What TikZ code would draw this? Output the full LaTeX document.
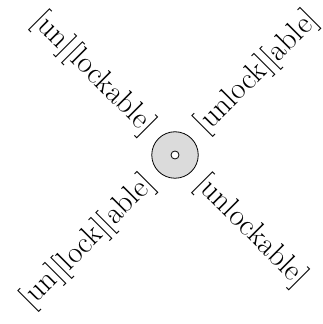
\documentclass[tikz,border=0pt]{standalone}
\usetikzlibrary{calc}
\begin{document}
\begin{tikzpicture}[x=1pt,y=1pt,
  disc/.style={circle,draw=black,line width=0.8pt,fill=black!14,minimum size=46.5pt,inner sep=0pt},
  hole/.style={circle,draw=black,line width=0.8pt,fill=white,minimum size=8pt,inner sep=0pt},
  lbl/.style={inner sep=0pt,font=\fontsize{30.5}{37}\selectfont}]
\useasboundingbox (0,0) rectangle (322,324);
\node[disc] (c) at (175,169) {};
\node[hole] (h) at (c.center) {};
\node[lbl,rotate=-45,anchor=east] (ul) at ($(c.center)+(135:35)$) {[un][lockable]};
\node[lbl,rotate=45,anchor=west] (ur) at ($(c.center)+(45:36)$) {[unlock][able]};
\node[lbl,rotate=45,anchor=east] (ll) at ($(c.center)+(225:35)$) {[un][lock][able]};
\node[lbl,rotate=-45,anchor=west] (lr) at ($(c.center)+(-45:35)$) {[unlockable]};
\end{tikzpicture}
\end{document}
